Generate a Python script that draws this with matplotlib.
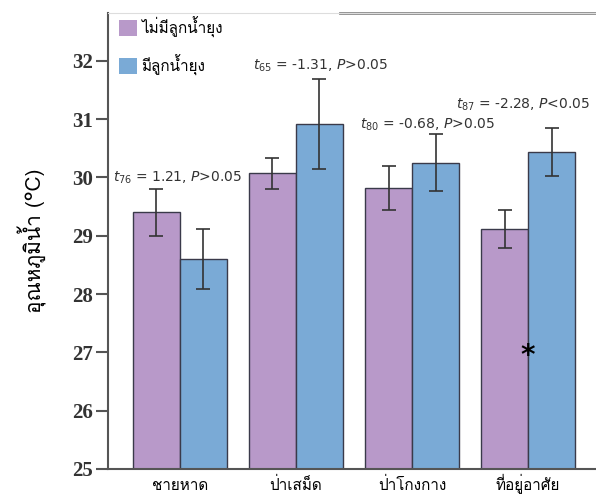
import matplotlib
matplotlib.use('Agg')
import matplotlib.pyplot as plt
import numpy as np
from matplotlib import font_manager
from matplotlib.ft2font import FT2Font
from matplotlib.patches import Patch

# data
sites = ['ชายหาด', 'ป่าเสม็ด', 'ป่าโกงกาง', 'ที่อยู่อาศัย']
no_larvae = [29.4, 30.07, 29.82, 29.12]
no_larvae_err = [0.4, 0.26, 0.38, 0.33]
larvae = [28.6, 30.92, 30.25, 30.44]
larvae_err = [0.52, 0.77, 0.49, 0.41]
tests = [r'$t_{\mathit{76}}$ = 1.21, $P$>0.05',
         r'$t_{\mathit{65}}$ = -1.31, $P$>0.05',
         r'$t_{\mathit{80}}$ = -0.68, $P$>0.05',
         r'$t_{\mathit{87}}$ = -2.28, $P$<0.05']
test_pos = [(-0.58, 30.0), (0.63, 31.92), (1.55, 30.9), (2.38, 31.25)]


def thai_font():
    # find any installed font with Thai glyphs
    for f in font_manager.fontManager.ttflist:
        try:
            if 0x0E01 in FT2Font(f.fname).get_charmap():
                return f.name
        except Exception:
            pass
    return 'DejaVu Sans'


thai = thai_font()
plt.rcParams['font.family'] = [thai, 'DejaVu Sans']
plt.rcParams['mathtext.fontset'] = 'dejavusans'

purple = '#b899c9'
blue = '#7aaad6'

fig = plt.figure(figsize=(5.96, 5.0), dpi=100)
ax = fig.add_axes([0.181, 0.062, 0.819, 0.912])

x = np.arange(len(sites))
w = 0.405
ax.bar(x - w / 2, no_larvae, w, color=purple, edgecolor='#3a3a4a', linewidth=1.0,
       yerr=no_larvae_err, capsize=5, error_kw=dict(ecolor='#333333', elinewidth=1.2, capthick=1.2))
ax.bar(x + w / 2, larvae, w, color=blue, edgecolor='#3a3a4a', linewidth=1.0,
       yerr=larvae_err, capsize=5, error_kw=dict(ecolor='#333333', elinewidth=1.2, capthick=1.2))

for txt, (tx, ty) in zip(tests, test_pos):
    ax.text(tx, ty, txt, fontsize=10, family='DejaVu Sans', color='#333333', va='center', ha='left')

ax.text(3, 26.93, '*', fontsize=20, fontweight='bold', ha='center', va='center', family='DejaVu Sans')

ax.set_xlim(-0.62, 3.585)
ax.set_ylim(25, 32.82)
ax.set_xticks(x)
ax.set_xticklabels(sites, fontsize=11, va='baseline')
ax.tick_params(axis='x', length=0, pad=15)
ax.set_yticks(range(25, 33))
ax.set_yticklabels([str(v) for v in range(25, 33)], family='Liberation Serif',
                   fontweight='bold', fontsize=15, color='#333333')
ax.tick_params(axis='y', length=9, width=1.5, color='#555555', pad=2)
ax.set_ylabel('อุณหภูมิน้ำ (°C)', fontsize=15, labelpad=18)

for s in ['left', 'bottom']:
    ax.spines[s].set_color('#555555')
    ax.spines[s].set_linewidth(1.5)
ax.spines['right'].set_visible(False)
ax.spines['top'].set_color('#dddddd')
ax.axhline(32.82, xmin=0.475, xmax=1, color='#888888', linewidth=2, clip_on=False)

handles = [Patch(facecolor=purple, edgecolor='none'), Patch(facecolor=blue, edgecolor='none')]
ax.legend(handles, ['ไม่มีลูกน้ำยุง', 'มีลูกน้ำยุง'], loc='upper left', frameon=False,
          fontsize=11, handlelength=1.2, handleheight=1.2, handletextpad=0.3,
          labelspacing=1.1, borderaxespad=0.3, bbox_to_anchor=(0.0, 1.016))

fig.savefig('out.png', dpi=100)
